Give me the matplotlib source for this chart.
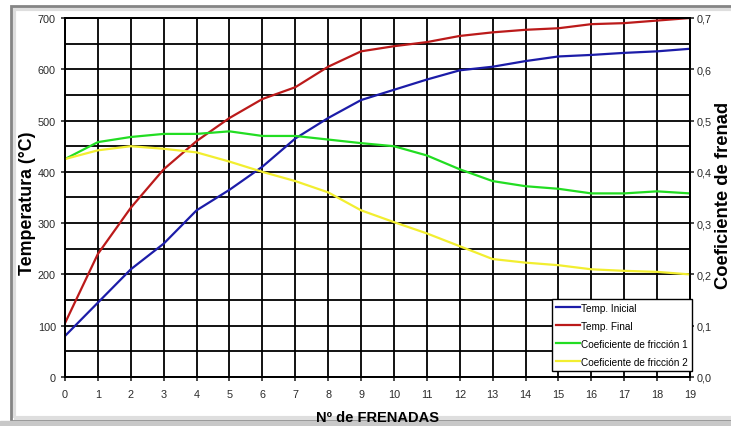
import matplotlib.pyplot as plt
from matplotlib.patches import Rectangle
import numpy as np

plt.rcParams['font.family'] = ['Liberation Sans', 'DejaVu Sans']

frenadas = list(range(20))
temp_inicial = [80, 145, 210, 260, 325, 365, 410, 465, 505, 540,
                560, 580, 598, 605, 616, 625, 628, 632, 635, 640]
temp_final = [105, 240, 330, 405, 460, 505, 542, 565, 605, 635,
              645, 653, 665, 672, 677, 680, 688, 690, 695, 700]
coef_1 = [0.425, 0.458, 0.468, 0.474, 0.474, 0.479, 0.470, 0.470, 0.463, 0.456,
          0.450, 0.432, 0.405, 0.382, 0.372, 0.367, 0.358, 0.358, 0.362, 0.358]
coef_2 = [0.425, 0.442, 0.450, 0.445, 0.438, 0.420, 0.400, 0.382, 0.360, 0.325,
          0.302, 0.280, 0.255, 0.230, 0.223, 0.218, 0.210, 0.207, 0.205, 0.200]
coef_ticks = [0.0, 0.1, 0.2, 0.3, 0.4, 0.5, 0.6, 0.7]

W, H = 731, 427
fig = plt.figure(figsize=(W / 100, H / 100), dpi=100)

# grey frame of the screenshot (drawn under everything)
def px_rect(x0, y0, x1, y1, **kw):
    return Rectangle((x0 / W, 1 - y1 / H), (x1 - x0) / W, (y1 - y0) / H,
                     transform=fig.transFigure, fill=False, zorder=-5, **kw)

fig.patches.append(px_rect(14, 10, 760, 419, edgecolor='#dedede', linewidth=3))
fig.patches.append(px_rect(11, 7, 760, 422, edgecolor='#858585', linewidth=2))
fig.patches.append(Rectangle((0, 0), 1, 5 / H, transform=fig.transFigure,
                             color='#c8c8c8', zorder=-5))

ax = fig.add_axes([65 / W, 49 / H, 625 / W, 359 / H])
ax2 = ax.twinx()

l1, = ax.plot(frenadas, temp_inicial, color='#1c1ca8', lw=1.6, label='Temp. Inicial')
l2, = ax.plot(frenadas, temp_final, color='#bb1a1a', lw=1.6, label='Temp. Final')
l3, = ax2.plot(frenadas, coef_1, color='#22dd22', lw=1.6, label='Coeficiente de fricción 1')
l4, = ax2.plot(frenadas, coef_2, color='#f2ee30', lw=1.6, label='Coeficiente de fricción 2')

ax.set_xlim(0, 19)
ax.set_ylim(0, 700)
ax2.set_ylim(0, 0.7)
ax.set_xticks(frenadas)
ax.set_yticks(np.arange(0, 701, 100))
ax.set_yticks(np.arange(50, 701, 100), minor=True)
ax2.set_yticks(coef_ticks)
ax2.set_yticklabels([('%.1f' % v).replace('.', ',') for v in coef_ticks])

ax.grid(True, which='both', color='black', lw=1.3)
ax.set_axisbelow(True)
for a in (ax, ax2):
    for s in a.spines.values():
        s.set_linewidth(1.3)
ax.tick_params(axis='both', which='major', labelsize=7.8, length=3, width=1.2, colors='#2a2a2a')
ax.tick_params(axis='y', which='minor', length=0)
ax.tick_params(axis='x', pad=6)
ax2.tick_params(axis='y', labelsize=7.8, length=3, width=1.2, colors='#2a2a2a', pad=2)

fig.text(27 / W, 1 - 203 / H, 'Temperatura (°C)', rotation=90, fontsize=12.8,
         fontweight='bold', ha='center', va='center')
fig.text(724 / W, 1 - 195 / H, 'Coeficiente de frenad', rotation=90, fontsize=13.2,
         fontweight='bold', ha='center', va='center')
fig.text(377 / W, 1 - 418 / H, 'Nº de FRENADAS', fontsize=10.5,
         fontweight='bold', ha='center', va='center')

leg = ax2.legend(handles=[l1, l2, l3, l4], loc='lower right', bbox_to_anchor=(1.003, 0.017),
                 prop={'size': 7.2}, frameon=True, fancybox=False, edgecolor='black',
                 framealpha=1, handlelength=2.4, handletextpad=0.1, borderpad=0.4,
                 labelspacing=0.8, borderaxespad=0)
leg.get_frame().set_linewidth(1.0)

plt.savefig('out.png', dpi=100)
